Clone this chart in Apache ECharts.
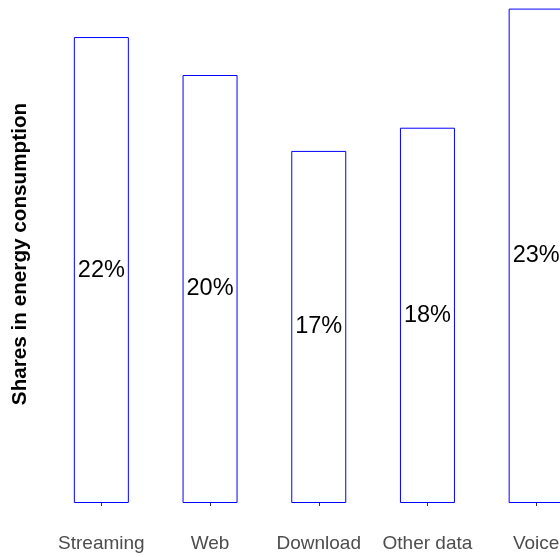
<!DOCTYPE html>
<html>
<head>
<meta charset="utf-8">
<script src="https://cdn.jsdelivr.net/npm/echarts@6/dist/echarts.min.js"></script>
<style>
  html, body { margin: 0; padding: 0; background: #fff; }
  #chart { width: 560px; height: 557px; }
</style>
</head>
<body>
<div id="chart"></div>
<script>
// categories and shares (percent)
const categories = ["Streaming", "Web", "Download", "Other data", "Voice"];
const shares = [22.1, 20.3, 16.7, 17.8, 23.45];

const chart = echarts.init(document.getElementById("chart"));

chart.setOption({
  animation: false,
  textStyle: { fontFamily: "Liberation Sans, Arial, sans-serif" },
  // plot runs past the right edge, the last bar is cut off
  grid: {
    left: 47,
    width: 543.5,
    top: -3,
    height: 506,
    containLabel: false,
    outerBoundsMode: "none"
  },
  xAxis: {
    type: "category",
    data: categories,
    offset: 25,
    axisLine: { show: false },
    axisTick: {
      show: true,
      alignWithLabel: true,
      length: 3,
      lineStyle: { color: "#333333", width: 1 }
    },
    axisLabel: {
      color: "#4d4d4d",
      fontSize: 19,
      margin: 6,
      interval: 0
    }
  },
  yAxis: {
    type: "value",
    min: 0,
    max: 24,
    name: "Shares in energy consumption",
    nameLocation: "middle",
    nameRotate: 90,
    nameGap: 16,
    nameTextStyle: {
      color: "#000",
      fontWeight: "bold",
      fontSize: 20.7,
      padding: [0, 8, 0, 0]
    },
    axisLine: { show: false },
    axisTick: { show: false },
    axisLabel: { show: false },
    splitLine: { show: false }
  },
  series: [{
    type: "bar",
    data: shares,
    barWidth: 55,
    itemStyle: {
      color: "#ffffff",
      borderColor: "#0000ff",
      borderWidth: 1
    },
    label: {
      show: true,
      position: "inside",
      color: "#000",
      fontSize: 23.5,
      formatter: (p) => Math.round(p.value) + "%"
    }
  }]
});
</script>
</body>
</html>
